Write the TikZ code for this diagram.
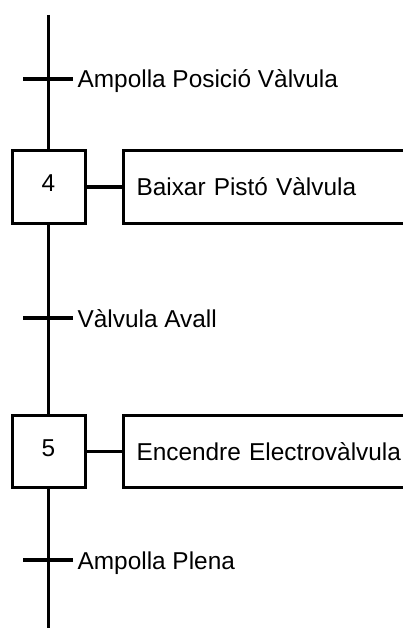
\documentclass[tikz,border=0pt]{standalone}
\usepackage{fontspec}
\setmainfont{Liberation Sans}
\begin{document}
\begin{tikzpicture}[x=1pt,y=-1pt,
  line width=3.2pt,
  every node/.style={font=\fontsize{24.4}{29}\selectfont, text=black},
  stepbox/.style={draw, line width=3pt, minimum width=73pt, minimum height=72pt, inner sep=0pt},
  actbox/.style={draw, line width=3pt, anchor=west, minimum height=72pt, inner xsep=13pt, inner ysep=0pt, text width=294pt, align=left},
  translabel/.style={anchor=base west, inner sep=0pt}
]
\useasboundingbox (0,0) rectangle (403,628);
\clip (0,0) rectangle (403,628);
% steps
\node[stepbox] (s4) at (48.5,187) {\raisebox{7pt}{4}};
\node[stepbox] (s5) at (48.5,451.5) {\raisebox{7pt}{5}};
% actions
\node[actbox] (a4) at (122,187) {Baixar Pistó Vàlvula};
\node[actbox] (a5) at (122,451.5) {Encendre Electrovàlvula};
% vertical line ends
\coordinate (top) at (48.5,15);
\coordinate (bot) at (48.5,640);
% transitions
\coordinate (t1w) at (23,79);  \coordinate (t1e) at (73,79);
\coordinate (t2w) at (23,318); \coordinate (t2e) at (73,318);
\coordinate (t3w) at (23,560); \coordinate (t3e) at (73,560);
\node[translabel] (l1) at (76,88) {Ampolla Posició Vàlvula};
\node[translabel] (l2) at (76,327) {Vàlvula Avall};
\node[translabel] (l3) at (76,569) {Ampolla Plena};
% links
\draw (top) -- (s4.north);
\draw (s4.south) -- (s5.north);
\draw (s5.south) -- (bot);
\draw (s4.east) -- (a4.west);
\draw (s5.east) -- (a5.west);
\draw (t1w) -- (t1e);
\draw (t2w) -- (t2e);
\draw (t3w) -- (t3e);
\end{tikzpicture}
\end{document}
